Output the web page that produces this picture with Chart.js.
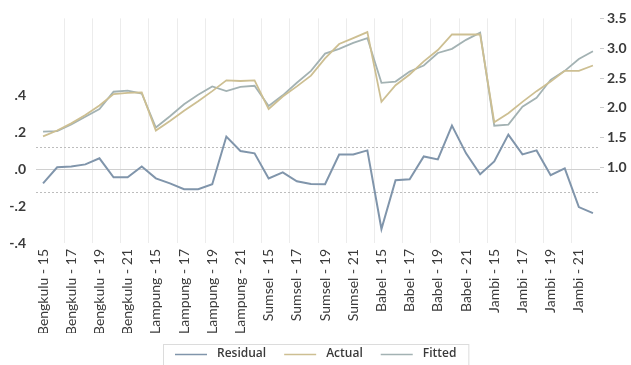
<!DOCTYPE html>
<html>
<head>
<meta charset="utf-8">
<script src="https://cdn.jsdelivr.net/npm/chart.js@4.4.1/dist/chart.umd.min.js"></script>
<style>
    html, body { margin: 0; padding: 0; background: #fff; }
    #grafico { display: block; }
</style>
</head>
<body>
<canvas id="grafico" width="631" height="365"></canvas>
<script>
// Datos (panel: 5 provincias x 8 años)
const provincias = ['Bengkulu', 'Lampung', 'Sumsel', 'Babel', 'Jambi'];
const tahun = ['15', '16', '17', '18', '19', '20', '21', '22'];

const residual = [
    -0.076, 0.011, 0.016, 0.027, 0.060, -0.043, -0.043, 0.016,
    -0.049, -0.076, -0.108, -0.108, -0.081, 0.178, 0.100, 0.087,
    -0.049, -0.016, -0.065, -0.080, -0.081, 0.081, 0.081, 0.103,
    -0.324, -0.059, -0.054, 0.070, 0.054, 0.238, 0.087, -0.027,
    0.043, 0.189, 0.081, 0.103, -0.032, 0.005, -0.205, -0.238
];
const actual = [
    1.52, 1.62, 1.74, 1.88, 2.04, 2.23, 2.25, 2.26,
    1.62, 1.78, 1.95, 2.11, 2.28, 2.46, 2.45, 2.46,
    1.98, 2.19, 2.36, 2.54, 2.83, 3.07, 3.17, 3.27,
    2.10, 2.38, 2.56, 2.78, 2.97, 3.23, 3.23, 3.23,
    1.76, 1.91, 2.10, 2.28, 2.44, 2.62, 2.62, 2.71
];
const fitted = [
    1.60, 1.61, 1.72, 1.85, 1.98, 2.27, 2.29, 2.24,
    1.67, 1.86, 2.06, 2.22, 2.36, 2.28, 2.35, 2.37,
    2.03, 2.21, 2.42, 2.62, 2.91, 2.99, 3.09, 3.17,
    2.42, 2.44, 2.61, 2.71, 2.92, 2.99, 3.14, 3.26,
    1.70, 1.72, 2.02, 2.17, 2.47, 2.62, 2.82, 2.95
];

// Ejes
const ticksIzq = [-0.4, -0.2, 0, 0.2, 0.4];
const etiquetasIzq = ['-.4', '-.2', '.0', '.2', '.4'];
const ticksDer = [1.0, 1.5, 2.0, 2.5, 3.0, 3.5];
const desvResidual = 0.124; // líneas punteadas +/- 1 s.e.

const categorias = [];
provincias.forEach(p => tahun.forEach(t => categorias.push(p + ' - ' + t)));

const fuente = "Lato, 'Open Sans', sans-serif";
const colorTexto = '#3a3a3a';

// Líneas de referencia del residual (0 sólida, +/- s.e. punteadas)
const lineasResidual = {
    id: 'lineasResidual',
    beforeDatasetsDraw(chart) {
        const { ctx, chartArea } = chart;
        const y = chart.scales.yRes;
        ctx.save();
        ctx.lineWidth = 1;
        ctx.strokeStyle = '#d0d0d0';
        const y0 = Math.round(y.getPixelForValue(0)) + 0.5;
        ctx.beginPath();
        ctx.moveTo(chartArea.left, y0);
        ctx.lineTo(chartArea.right, y0);
        ctx.stroke();
        ctx.setLineDash([2, 2]);
        ctx.strokeStyle = '#bdbdbd';
        [desvResidual, -desvResidual].forEach(v => {
            const py = Math.round(y.getPixelForValue(v)) + 0.5;
            ctx.beginPath();
            ctx.moveTo(chartArea.left, py);
            ctx.lineTo(chartArea.right, py);
            ctx.stroke();
        });
        ctx.restore();
    }
};

// Leyenda dibujada a mano (con marco), centrada bajo el gráfico
const leyendaPropia = {
    id: 'leyendaPropia',
    afterDraw(chart) {
        const ctx = chart.ctx;
        const largoLinea = 32, hueco = 10, separacion = 18, margen = 12;
        const yTexto = chart.height - 11;
        ctx.save();
        ctx.font = "600 12px 'Open Sans', sans-serif";
        ctx.textBaseline = 'middle';
        const items = chart.data.datasets.map(ds => ({
            texto: ds.label,
            color: ds.borderColor,
            ancho: largoLinea + hueco + ctx.measureText(ds.label).width
        }));
        const total = items.reduce((s, it) => s + it.ancho, 0) + separacion * (items.length - 1);
        let x = Math.round((chart.width - total) / 2);
        ctx.strokeStyle = '#dcdcdc';
        ctx.lineWidth = 1;
        ctx.strokeRect(x - margen + 0.5, yTexto - 9.5, total + margen * 2, 30);
        items.forEach(it => {
            ctx.strokeStyle = it.color;
            ctx.lineWidth = 1.5;
            ctx.beginPath();
            ctx.moveTo(x, yTexto + 0.5);
            ctx.lineTo(x + largoLinea, yTexto + 0.5);
            ctx.stroke();
            ctx.fillStyle = colorTexto;
            ctx.fillText(it.texto, x + largoLinea + hueco, yTexto);
            x += it.ancho + separacion;
        });
        ctx.restore();
    }
};

const ctxGrafico = document.getElementById('grafico').getContext('2d');
const grafico = new Chart(ctxGrafico, {
    type: 'line',
    data: {
        labels: categorias,
        datasets: [{
            label: 'Residual',
            data: residual,
            yAxisID: 'yRes',
            borderColor: '#8095ab',
            borderWidth: 2,
            pointRadius: 0,
            tension: 0
        }, {
            label: 'Actual',
            data: actual,
            yAxisID: 'yAct',
            borderColor: '#cdbf92',
            borderWidth: 1.8,
            pointRadius: 0,
            tension: 0
        }, {
            label: 'Fitted',
            data: fitted,
            yAxisID: 'yAct',
            borderColor: '#a3b2b3',
            borderWidth: 1.8,
            pointRadius: 0,
            tension: 0
        }]
    },
    options: {
        responsive: false,
        animation: false,
        layout: {
            padding: { top: 17, left: 0, right: 0, bottom: 32 }
        },
        plugins: {
            legend: { display: false },
            tooltip: { enabled: false }
        },
        scales: {
            x: {
                offset: true,
                border: { display: false },
                grid: {
                    offset: true,
                    drawTicks: false,
                    color: ctx => (ctx.index > 0 && ctx.index % 2 === 0) ? '#ececec' : 'rgba(0,0,0,0)'
                },
                ticks: {
                    autoSkip: false,
                    minRotation: 90,
                    maxRotation: 90,
                    padding: 6,
                    color: colorTexto,
                    font: { family: fuente, size: 14 },
                    callback: function (valor, i) {
                        return i % 2 === 0 ? this.getLabelForValue(valor) : '';
                    }
                },
                afterFit: escala => { escala.height = 90; }
            },
            yRes: {
                position: 'left',
                min: -0.4,
                max: 0.82,
                border: { display: false },
                grid: { display: false, drawTicks: false },
                afterBuildTicks: escala => { escala.ticks = ticksIzq.map(v => ({ value: v })); },
                ticks: {
                    padding: 10,
                    color: colorTexto,
                    font: { family: fuente, size: 14, weight: 'bold' },
                    callback: (valor) => etiquetasIzq[ticksIzq.indexOf(valor)]
                },
                afterFit: escala => { escala.width = 36; }
            },
            yAct: {
                position: 'right',
                min: -0.267,
                max: 3.5,
                border: { display: false },
                grid: {
                    drawOnChartArea: false,
                    drawTicks: true,
                    tickLength: 4,
                    color: '#cccccc'
                },
                afterBuildTicks: escala => { escala.ticks = ticksDer.map(v => ({ value: v })); },
                ticks: {
                    padding: 3,
                    color: colorTexto,
                    font: { family: fuente, size: 14, weight: 'bold' },
                    callback: (valor) => valor.toFixed(1)
                },
                afterFit: escala => { escala.width = 31; }
            }
        }
    },
    plugins: [lineasResidual, leyendaPropia]
});
</script>
</body>
</html>
